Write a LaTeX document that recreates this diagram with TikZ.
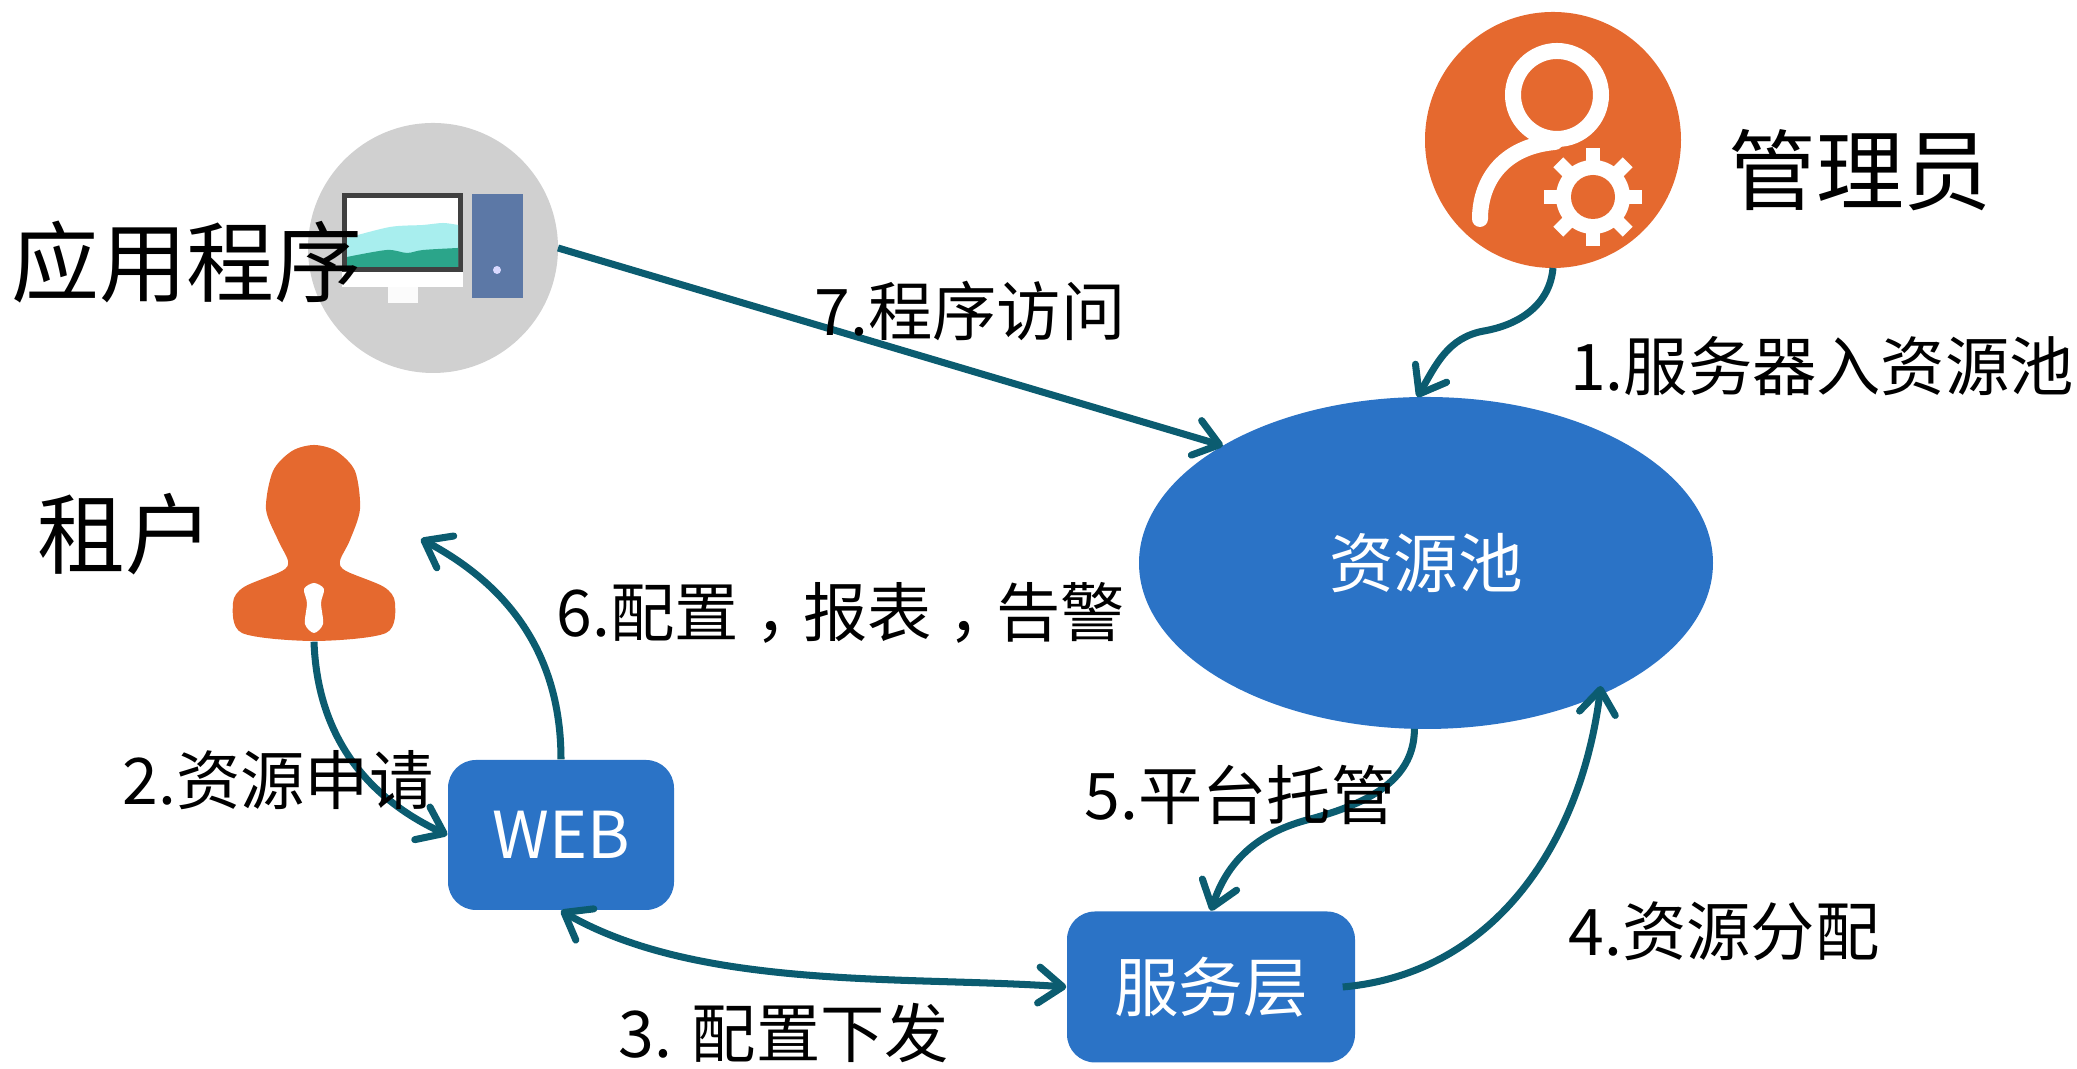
\documentclass[tikz,border=0pt]{standalone}
\usepackage{fontspec}
\setmainfont{Noto Sans CJK SC}
\usepackage{tikz}
\usetikzlibrary{shapes.geometric}
\usetikzlibrary{arrows.meta}
\definecolor{blockblue}{HTML}{2B73C6}
\definecolor{linkteal}{HTML}{0B5C70}
\definecolor{iconorange}{HTML}{E5692F}
\definecolor{icongrey}{HTML}{D0D0D0}
\definecolor{hillcyan}{HTML}{A8EEEE}
\definecolor{hillteal}{HTML}{2BA58A}
\definecolor{towerblue}{HTML}{5C78A6}
\tikzset{>={Straight Barb[length=2.4mm,width=3.6mm,round]}}
\tikzset{
  link/.style={draw=linkteal, line width=2pt},
  blockbox/.style={rectangle, rounded corners=0.28cm, fill=blockblue, text=white, font=\fontsize{18.4}{18.4}\selectfont},
  iconcirc/.style={circle, inner sep=0pt, outer sep=0pt},
  steplabel/.style={font=\fontsize{18.3}{18.3}\selectfont, inner sep=0pt},
  rolelabel/.style={font=\fontsize{25}{25}\selectfont, inner sep=0pt}
}
\begin{document}
\begin{tikzpicture}
  \useasboundingbox (0,0) rectangle (20.77,10.69);
  \node[ellipse, fill=blockblue, text=white, minimum width=5.74cm, minimum height=3.32cm, inner sep=0pt, outer sep=0pt, font=\fontsize{18.4}{18.4}\selectfont] (pool) at (14.26,5.06) {资源池};
  \node[blockbox, minimum width=2.26cm, minimum height=1.50cm] (web) at (5.61,2.34) {WEB};
  \node[blockbox, minimum width=2.88cm, minimum height=1.51cm] (svc) at (12.11,0.82) {服务层};
  \node[iconcirc, fill=iconorange, minimum size=2.56cm] (admin) at (15.53,9.29) {};
  \node[iconcirc, fill=icongrey, minimum size=2.50cm] (app) at (4.33,8.21) {};
  \node[inner sep=0pt, minimum width=1.62cm, minimum height=1.96cm] (tenant) at (3.14,5.26) {};
  % admin icon
  \draw[white, line width=0.16cm] (15.57,9.74) circle (0.44);
  \draw[white, line width=0.16cm, line cap=round] (15.55,9.27) .. controls (15.0,9.22) and (14.8,8.85) .. (14.80,8.50);
  \foreach \a in {0,45,...,315}
    \fill[white, rotate around={\a:(15.93,8.72)}] (15.86,8.72) rectangle (16.00,9.21);
  \fill[white] (15.93,8.72) circle (0.37);
  \fill[iconorange] (15.93,8.72) circle (0.22);
  % app icon
  \fill[white!92!icongrey] (3.88,7.82) rectangle (4.18,7.66);
  \fill[white] (3.42,7.97) rectangle (4.63,7.82);
  \fill[black!75] (3.42,8.76) rectangle (4.63,7.97);
  \fill[white] (3.47,8.71) rectangle (4.58,8.02);
  \fill[hillcyan] plot[smooth] coordinates {(3.47,8.31) (3.90,8.42) (4.23,8.44) (4.43,8.46) (4.58,8.44)} -- (4.58,8.02) -- (3.47,8.02) -- cycle;
  \fill[hillteal] plot[smooth] coordinates {(3.47,8.12) (3.87,8.19) (4.07,8.16) (4.23,8.19) (4.58,8.21)} -- (4.58,8.02) -- (3.47,8.02) -- cycle;
  \fill[towerblue] (4.72,8.75) rectangle (5.23,7.71);
  \fill[white!85!blue] (4.97,7.99) circle (0.04);
  % tenant icon
  \fill[iconorange] plot[smooth cycle, tension=0.5] coordinates {(3.14,4.28) (2.42,4.36) (2.33,4.66) (2.44,4.82) (2.82,4.98) (2.88,5.08) (2.78,5.29) (2.66,5.60) (2.73,5.98) (2.92,6.18) (3.14,6.24) (3.36,6.18) (3.55,5.98) (3.60,5.60) (3.50,5.29) (3.40,5.08) (3.46,4.98) (3.84,4.82) (3.95,4.66) (3.86,4.36)};
  \fill[white] plot[smooth cycle, tension=0.5] coordinates {(3.14,4.86) (3.24,4.80) (3.21,4.66) (3.23,4.45) (3.14,4.36) (3.05,4.45) (3.07,4.66) (3.04,4.80)};
  \coordinate (tenanttip) at (4.21,5.30);
  \coordinate (adminbend) at (14.84,7.38);
  \coordinate (poolbend) at (13.07,2.49);
  \draw[link, ->] (admin.south) to[out=-95,in=10] (adminbend) to[out=190,in=60] (pool.93);
  \draw[link, ->] (app.east) -- (pool.150);
  \draw[link, ->] (tenant.south) to[out=-88,in=155] (web.west);
  \draw[link, ->] (web.north) to[out=90,in=-28] (tenanttip);
  \draw[link, <->] (web.south) to[out=-30,in=176,looseness=0.8] (svc.west);
  \draw[link, ->] ([xshift=-0.13cm]svc.east) to[out=5,in=-97] ([shift={(-0.08,0.05)}]pool.-35);
  \draw[link, ->] (pool.-94) to[out=-90,in=15] (poolbend) to[out=195,in=72] (svc.north);
  \node[rolelabel] (adminlabel) at (18.60,8.99) {管理员};
  \node[rolelabel] (applabel) at (1.87,8.07) {应用程序};
  \node[rolelabel] (tenantlabel) at (1.25,5.35) {租户};
  \node[steplabel] (step1) at (18.22,7.03) {1.服务器入资源池};
  \node[steplabel] (step2) at (2.78,2.89) {2.资源申请};
  \node[steplabel] (step3) at (7.84,0.36) {3. 配置下发};
  \node[steplabel] (step4) at (17.24,1.38) {4.资源分配};
  \node[steplabel] (step5) at (12.40,2.74) {5.平台托管};
  \node[steplabel] (step6) at (8.41,4.56) {6.配置\hspace{.25em}，\hspace{-.25em}报表\hspace{.25em}，\hspace{-.25em}告警};
  \node[steplabel] (step7) at (9.70,7.58) {7.程序访问};
\end{tikzpicture}
\end{document}
